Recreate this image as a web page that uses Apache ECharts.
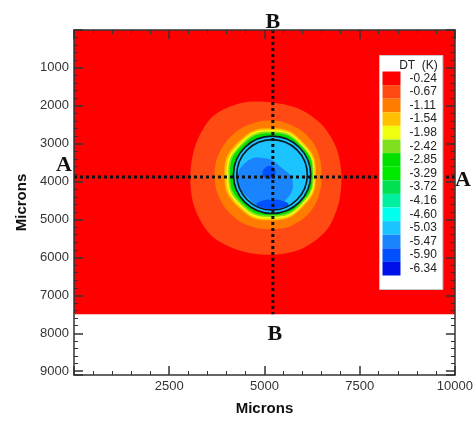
<!DOCTYPE html>
<html>
<head>
<meta charset="utf-8">
<script src="https://cdn.jsdelivr.net/npm/echarts@6/dist/echarts.min.js"></script>
<style>
  html, body { margin: 0; padding: 0; background: #fff; }
  #chart { width: 476px; height: 421px; }
</style>
</head>
<body>
<div id="chart"></div>
<script>
// ---- DT contour levels (K) and their fill colours ----
const levels = [-0.24, -0.67, -1.11, -1.54, -1.98, -2.42, -2.85, -3.29, -3.72, -4.16, -4.60, -5.03, -5.47, -5.90, -6.34];
const levelColors = ['#ff0000', '#ff4a14', '#ff7c00', '#ffc000', '#f0ff10', '#80e020', '#00e000', '#00ea00',
                     '#00e050', '#00f0a0', '#00ffee', '#1cc4ff', '#1a84ff', '#0050ff', '#0010e8'];

// ---- axes (microns) ----
const xRange = [0, 10000];
const yRange = [0, 9100];
const xTickLabels = [2500, 5000, 7500, 10000];
const yTickLabels = [1000, 2000, 3000, 4000, 5000, 6000, 7000, 8000, 9000];

// ---- simulated domain and cooled spot ----
const fieldExtent = [0, 0, 10000, 7500];       // x0, y0, x1, y1
const spotCenter = [5200, 3820];
// boundary radii (microns), sampled clockwise from +x at equal angles
const haloRadii   = [1820, 1900, 2040, 2100, 2110, 2170, 2260, 2210,
                     2145, 2160, 2190, 2060, 1910, 1880, 1860, 1830];                         // -0.67
const orangeRadii = [1300, 1340, 1400, 1430, 1430, 1470, 1500, 1510, 1510, 1500, 1480, 1450, 1430, 1400, 1380, 1330]; // -1.11
const goldRadii   = [1150, 1170, 1200, 1230, 1250, 1240, 1230, 1180];                         // -1.54
const yellowRadii = [1115, 1135, 1160, 1180, 1195, 1190, 1180, 1140];                         // -1.98
const limeRadii   = [1085, 1095, 1110, 1135, 1150, 1145, 1140, 1105];                         // -2.42
const greenRadii  = [1060, 1062, 1068, 1085, 1100, 1100, 1098, 1075];                         // -2.85
const ringRadii   = [1015, 925];                                                              // outlined rings
const blobCenter  = [5020, 4000];
const blobRadii   = [720, 720, 730, 620, 720, 720, 620, 560];                                 // -5.47
const crescentCenter = [5210, 4600];
const crescentRadii  = [420, 170, 140, 170, 420, 180, 110, 180];                              // -5.90
const coreCenter  = [5120, 3760];
const coreRadii   = [170, 160, 170, 180, 170, 160, 170, 180];                                 // -5.90

// ---- section lines A-A and B-B ----
const sectionNames = ['A', 'B'];
const sectionFrom  = [[0, 3880], [5220, 0]];
const sectionTo    = [[10000, 3880], [5220, 7500]];

// filled regions, drawn back to front
const contours = [
  { kind: 'field', level: -0.24, extent: fieldExtent },
  { kind: 'band', level: -0.67, center: spotCenter, radii: haloRadii, smooth: 0.3 },
  { kind: 'band', level: -1.11, center: spotCenter, radii: orangeRadii, smooth: 0.4 },
  { kind: 'band', level: -1.54, center: spotCenter, radii: goldRadii, smooth: 0.5 },
  { kind: 'band', level: -1.98, center: spotCenter, radii: yellowRadii, smooth: 0.5 },
  { kind: 'band', level: -2.42, center: spotCenter, radii: limeRadii, smooth: 0.5 },
  { kind: 'band', level: -2.85, center: spotCenter, radii: greenRadii, smooth: 0.5 },
  { kind: 'disk', level: -5.03, center: spotCenter, r: ringRadii[0] },
  { kind: 'band', level: -5.47, center: blobCenter, radii: blobRadii, smooth: 0.5 },
  { kind: 'band', level: -5.90, center: crescentCenter, radii: crescentRadii, smooth: 0.5 },
  { kind: 'band', level: -5.90, center: coreCenter, radii: coreRadii, smooth: 0.5 }
];

const FONT = '"Liberation Sans", Arial, Helvetica, sans-serif';
const AXIS_COLOR = '#333';

function renderContour(params, api) {
  const c = contours[params.dataIndex];
  const fill = api.visual('color');
  if (c.kind === 'field') {
    const p0 = api.coord([c.extent[0], c.extent[1]]);
    const p1 = api.coord([c.extent[2], c.extent[3]]);
    return {
      type: 'rect',
      shape: { x: Math.min(p0[0], p1[0]), y: Math.min(p0[1], p1[1]),
               width: Math.abs(p1[0] - p0[0]), height: Math.abs(p1[1] - p0[1]) },
      style: { fill: fill }
    };
  }
  if (c.kind === 'disk') {
    const p = api.coord(c.center);
    return { type: 'circle', shape: { cx: p[0], cy: p[1], r: api.size([c.r, 0])[0] }, style: { fill: fill } };
  }
  const n = c.radii.length;
  const pts = c.radii.map(function (r, i) {
    const a = 2 * Math.PI * i / n;
    return api.coord([c.center[0] + r * Math.cos(a), c.center[1] + r * Math.sin(a)]);
  });
  return { type: 'polygon', shape: { points: pts, smooth: c.smooth }, style: { fill: fill } };
}

function renderRing(params, api) {
  const p = api.coord(spotCenter);
  const r = api.size([ringRadii[params.dataIndex], 0])[0];
  return { type: 'circle', shape: { cx: p[0], cy: p[1], r: r },
           style: { fill: 'none', stroke: '#101820', lineWidth: 1.6 } };
}

function renderSection(params, api) {
  const i = params.dataIndex;
  const p0 = api.coord(sectionFrom[i]);
  const p1 = api.coord(sectionTo[i]);
  const horizontal = Math.abs(p1[1] - p0[1]) < 1;
  const o0 = horizontal ? [-10, -12] : [0, -8];
  const o1 = horizontal ? [8, 3] : [2, 20];
  const label = function (x, y) {
    return { type: 'text', x: x, y: y,
             style: { text: sectionNames[i], font: 'bold 22px "Liberation Serif", "Times New Roman", serif',
                      fill: '#111', align: 'center', verticalAlign: 'middle' } };
  };
  return {
    type: 'group',
    children: [
      { type: 'line', shape: { x1: p0[0], y1: p0[1], x2: p1[0], y2: p1[1] },
        style: { stroke: '#111', lineWidth: 3, lineDash: [3, 3], lineCap: 'butt' } },
      label(p0[0] + o0[0], p0[1] + o0[1]),
      label(p1[0] + o1[0], p1[1] + o1[1])
    ]
  };
}

function tickSet(major, minor) {
  return {
    axisLine: { show: true, onZero: false, lineStyle: { color: AXIS_COLOR, width: 1.5 } },
    axisTick: { show: true, inside: true, length: major, lineStyle: { color: AXIS_COLOR, width: 1.5 } },
    minorTick: { show: true, splitNumber: 5, length: minor, lineStyle: { color: AXIS_COLOR, width: 1 } },
    splitLine: { show: false },
    z: 10
  };
}

const labelStyle = { fontFamily: FONT, fontSize: 13, color: '#333', margin: 5 };

const option = {
  backgroundColor: '#fff',
  animation: false,
  grid: { left: 74, right: 17, top: 30, bottom: 42 },
  xAxis: [
    Object.assign({
      type: 'value', position: 'bottom', min: xRange[0], max: xRange[1], interval: 2500,
      name: 'Microns', nameLocation: 'middle', nameGap: 26,
      nameTextStyle: { fontFamily: FONT, fontSize: 15, fontWeight: 'bold', color: '#111' },
      axisLabel: Object.assign({ formatter: function (v) { return xTickLabels.indexOf(v) >= 0 ? String(v) : ''; } }, labelStyle)
    }, tickSet(9, 4)),
    Object.assign({
      type: 'value', position: 'top', min: xRange[0], max: xRange[1], interval: 2500,
      axisLabel: { show: false }
    }, tickSet(9, 4))
  ],
  yAxis: [
    Object.assign({
      type: 'value', position: 'left', inverse: true, min: yRange[0], max: yRange[1], interval: 1000,
      name: 'Microns', nameLocation: 'middle', nameGap: 43,
      nameTextStyle: { fontFamily: FONT, fontSize: 15, fontWeight: 'bold', color: '#111' },
      axisLabel: Object.assign({ showMaxLabel: false, formatter: function (v) { return yTickLabels.indexOf(v) >= 0 ? String(v) : ''; } }, labelStyle)
    }, tickSet(9, 4)),
    Object.assign({
      type: 'value', position: 'right', inverse: true, min: yRange[0], max: yRange[1], interval: 1000,
      axisLabel: { show: false }
    }, tickSet(9, 4))
  ],
  visualMap: {
    type: 'piecewise',
    seriesIndex: 0,
    dimension: 2,
    pieces: levels.map(function (v, i) { return { value: v, label: v.toFixed(2), color: levelColors[i] }; }),
    orient: 'vertical',
    inverse: false,
    left: 379,
    top: 55,
    itemWidth: 18,
    itemHeight: 13.6,
    itemGap: 0,
    itemSymbol: 'rect',
    showLabel: true,
    text: ['     DT  (K)', ''],
    textGap: 9,
    align: 'left',
    textStyle: { fontFamily: FONT, fontSize: 12, color: '#222' },
    backgroundColor: '#fff',
    borderColor: '#c8c8c8',
    borderWidth: 1,
    padding: [4, 5, 14, 3],
    hoverLink: false
  },
  series: [
    {
      type: 'custom',
      renderItem: renderContour,
      encode: { x: 0, y: 1 },
      data: contours.map(function (c) {
        const ctr = c.center || [(c.extent[0] + c.extent[2]) / 2, (c.extent[1] + c.extent[3]) / 2];
        return [ctr[0], ctr[1], c.level];
      }),
      silent: true,
      z: 1
    },
    {
      type: 'custom',
      renderItem: renderRing,
      encode: { x: 0, y: 1 },
      data: ringRadii.map(function () { return [spotCenter[0], spotCenter[1]]; }),
      silent: true,
      z: 2
    },
    {
      type: 'custom',
      renderItem: renderSection,
      encode: { x: [0, 2], y: [1, 3] },
      data: sectionNames.map(function (n, i) {
        return [sectionFrom[i][0], sectionFrom[i][1], sectionTo[i][0], sectionTo[i][1]];
      }),
      silent: true,
      z: 3
    }
  ]
};

const chart = echarts.init(document.getElementById('chart'), null, { renderer: 'canvas' });
chart.setOption(option);
</script>
</body>
</html>
